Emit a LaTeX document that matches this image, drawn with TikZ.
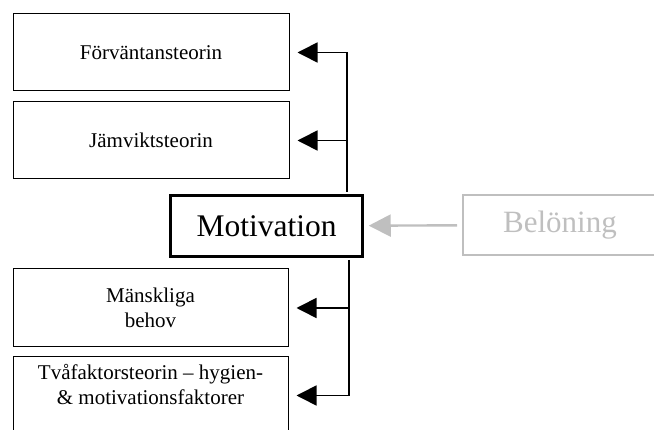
\documentclass[tikz,border=0pt]{standalone}
\usepackage{fontspec}
\setmainfont{Liberation Serif}
\usetikzlibrary{arrows.meta,calc}
\definecolor{lgray}{RGB}{191,191,191}
\tikzset{
  box/.style={draw=black, line width=1pt, minimum width=276pt, minimum height=77pt,
    inner sep=0pt, align=center, font=\fontsize{21}{25}\selectfont},
  mainbox/.style={draw=black, line width=2.5pt, minimum width=192pt, minimum height=61pt,
    inner sep=0pt, font=\fontsize{31.5}{36}\selectfont},
  graybox/.style={draw=lgray, line width=2pt, text=lgray, minimum width=194pt, minimum height=60pt,
    inner sep=0pt, font=\fontsize{31}{36}\selectfont},
  arr/.style={line width=1.6pt, -{Triangle[length=20pt,width=20pt]}, shorten >=8pt},
  grayarr/.style={draw=lgray, line width=2.4pt, -{Triangle[length=22pt,width=22pt]}, shorten >=5pt, shorten <=5pt}
}
\begin{document}
\begin{tikzpicture}[x=1pt,y=-1pt]
\useasboundingbox (0,0) rectangle (654,430);
\node[box] (b1) at (151,52.5) {Förväntansteorin};
\node[box] (b2) at (151,140.5) {Jämviktsteorin};
\node[box, minimum width=275pt, minimum height=78pt] (b3) at (150.5,308) {Mänskliga\\behov};
\node[box, minimum width=275pt] (b4) at (150.5,395.5) {Tvåfaktorsteorin – hygien-\\\& motivationsfaktorer\rule[-23pt]{0pt}{0pt}};
\node[mainbox] (mot) at (266.5,226) {Motivation};
\node[graybox] (bel) at (560,225) {Belöning};
\coordinate (tu) at (347,192);
\coordinate (td) at (349,260);
\draw[arr] (tu) |- (b1);
\draw[arr] (tu |- b2) -- (b2);
\draw[arr] (td) |- (b4);
\draw[arr] (td |- b3) -- (b3);
\draw[grayarr] (bel) -- (mot);
\end{tikzpicture}
\end{document}
